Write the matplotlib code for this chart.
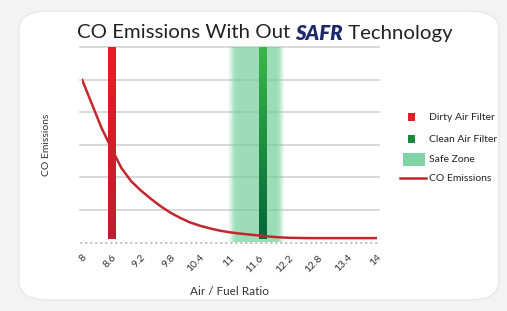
import matplotlib
matplotlib.use("Agg")
import matplotlib.pyplot as plt
import numpy as np
from matplotlib.patches import FancyBboxPatch, Rectangle
from matplotlib.lines import Line2D

# data
ratio = [8.0, 8.2, 8.4, 8.6, 8.8, 9.0, 9.2, 9.4, 9.6, 9.8, 10.0, 10.2, 10.4, 10.6,
         10.8, 11.0, 11.2, 11.4, 11.6, 11.8, 12.0, 12.2, 12.6, 13.0, 13.4, 13.8, 14.0]
co = [5.0, 4.25, 3.5, 2.88, 2.28, 1.87, 1.58, 1.33, 1.10, 0.90, 0.74, 0.60, 0.50, 0.42,
      0.35, 0.30, 0.26, 0.23, 0.20, 0.17, 0.145, 0.13, 0.12, 0.12, 0.12, 0.12, 0.12]
xticks = [8, 8.6, 9.2, 9.8, 10.4, 11, 11.6, 12.2, 12.8, 13.4, 14]
xticklabels = ['8', '8.6', '9.2', '9.8', '10.4', '11', '11.6', '12.2', '12.8', '13.4', '14']
dirty_x = 8.6
clean_x = 11.67
safe_zone = (11.0, 12.1)

font = 'Lato'
plt.rcParams['font.family'] = [font, 'DejaVu Sans']

fig = plt.figure(figsize=(5.07, 3.11), dpi=100)
fig.patch.set_facecolor('#f3f3f3')
# white card
card = FancyBboxPatch((19 / 507, 1 - 300 / 311), 480 / 507, 289 / 311,
                      boxstyle='round,pad=0,rounding_size=0.06', transform=fig.transFigure,
                      facecolor='white', edgecolor='#e8e8e8', lw=1, zorder=-10)
fig.add_artist(card)

ax = fig.add_axes([82 / 507, 1 - 242 / 311, 295 / 507, 195 / 311])
ax.set_zorder(5)
ax.set_facecolor('none')

# grid
for g in range(1, 7):
    ax.plot([7.95, 14.05], [g, g], color='#d3d3d3', lw=1.2, clip_on=False, zorder=1)
ax.plot([7.95, 14.05], [-0.03, -0.03], color='#bdbdbd', lw=1.2, ls=(0, (1.5, 1.5)),
        clip_on=False, zorder=1)

# safe zone with soft edges
for k in range(6):
    inset = k * 0.025
    ax.axvspan(safe_zone[0] + inset, safe_zone[1] - inset, color='#6fcf97', alpha=0.17,
               lw=0, zorder=2)

# gradient bars
def grad_bar(x, top_col, bot_col, width=0.15):
    cols = np.array([matplotlib.colors.to_rgb(top_col), matplotlib.colors.to_rgb(bot_col)])
    t = np.linspace(0, 1, 64)[:, None]
    img = cols[0] * (1 - t) + cols[1] * t
    ax.imshow(img[:, None, :], extent=[x - width / 2, x + width / 2, 0.08, 6.0],
              aspect='auto', zorder=3, interpolation='bilinear')

grad_bar(dirty_x, '#ed1c24', '#be1e2d')
grad_bar(clean_x, '#3cb54a', '#006837')
ax.set_xlim(8, 14)
ax.set_ylim(0, 6)

ax.plot(ratio, co, color='#c1272d', lw=1.8, zorder=4, solid_capstyle='round',
        solid_joinstyle='round')

for s in ax.spines.values():
    s.set_visible(False)
ax.set_yticks([])
ax.set_xticks(xticks)
ax.set_xticklabels(xticklabels, rotation=45, ha='right', va='top', fontsize=7.5,
                   color='#333333', rotation_mode='anchor')
ax.tick_params(axis='x', length=0, pad=8)
ax.set_xlabel('Air / Fuel Ratio', fontsize=8.5, color='#333333', labelpad=9)
ax.set_ylabel('CO Emissions', fontsize=7.5, color='#333333', labelpad=22)

# title, pieces placed one after the other
renderer = fig.canvas.get_renderer()
ty = 1 - 33 / 311
x0 = 77 / 507
pieces = [('CO Emissions With Out ', '#222222', 'normal', 'normal'),
          ('SAFR', '#1c2a6b', 'heavy', 'italic'),
          (' Technology', '#222222', 'normal', 'normal')]
for txt, col, wt, st in pieces:
    t = fig.text(x0, ty, txt, fontsize=14.7, color=col, va='center', ha='left',
                 fontweight=wt, style=st)
    bb = t.get_window_extent(renderer)
    x0 = bb.x1 / fig.bbox.width

# legend
tx = 429 / 507
def fy(p):
    return 1 - p / 311
fig.add_artist(Rectangle((408 / 507, fy(121)), 7 / 507, 8 / 311, transform=fig.transFigure,
                         facecolor='#e31e26', lw=0))
fig.add_artist(Rectangle((408 / 507, fy(143)), 7 / 507, 8 / 311, transform=fig.transFigure,
                         facecolor='#1a8a3f', lw=0))
fig.add_artist(Rectangle((403 / 507, fy(166)), 22 / 507, 13 / 311, transform=fig.transFigure,
                         facecolor='#7fd3a5', lw=0))
fig.add_artist(Line2D([400 / 507, 426 / 507], [fy(178), fy(178)], transform=fig.transFigure,
                      color='#c1272d', lw=1.8))
for lab, p in [('Dirty Air Filter', 118), ('Clean Air Filter', 139),
               ('Safe Zone', 159.5), ('CO Emissions', 178.5)]:
    fig.text(tx, fy(p), lab, fontsize=7.5, color='#222222', va='center', ha='left')

fig.savefig('out.png', dpi=100, facecolor=fig.get_facecolor())
